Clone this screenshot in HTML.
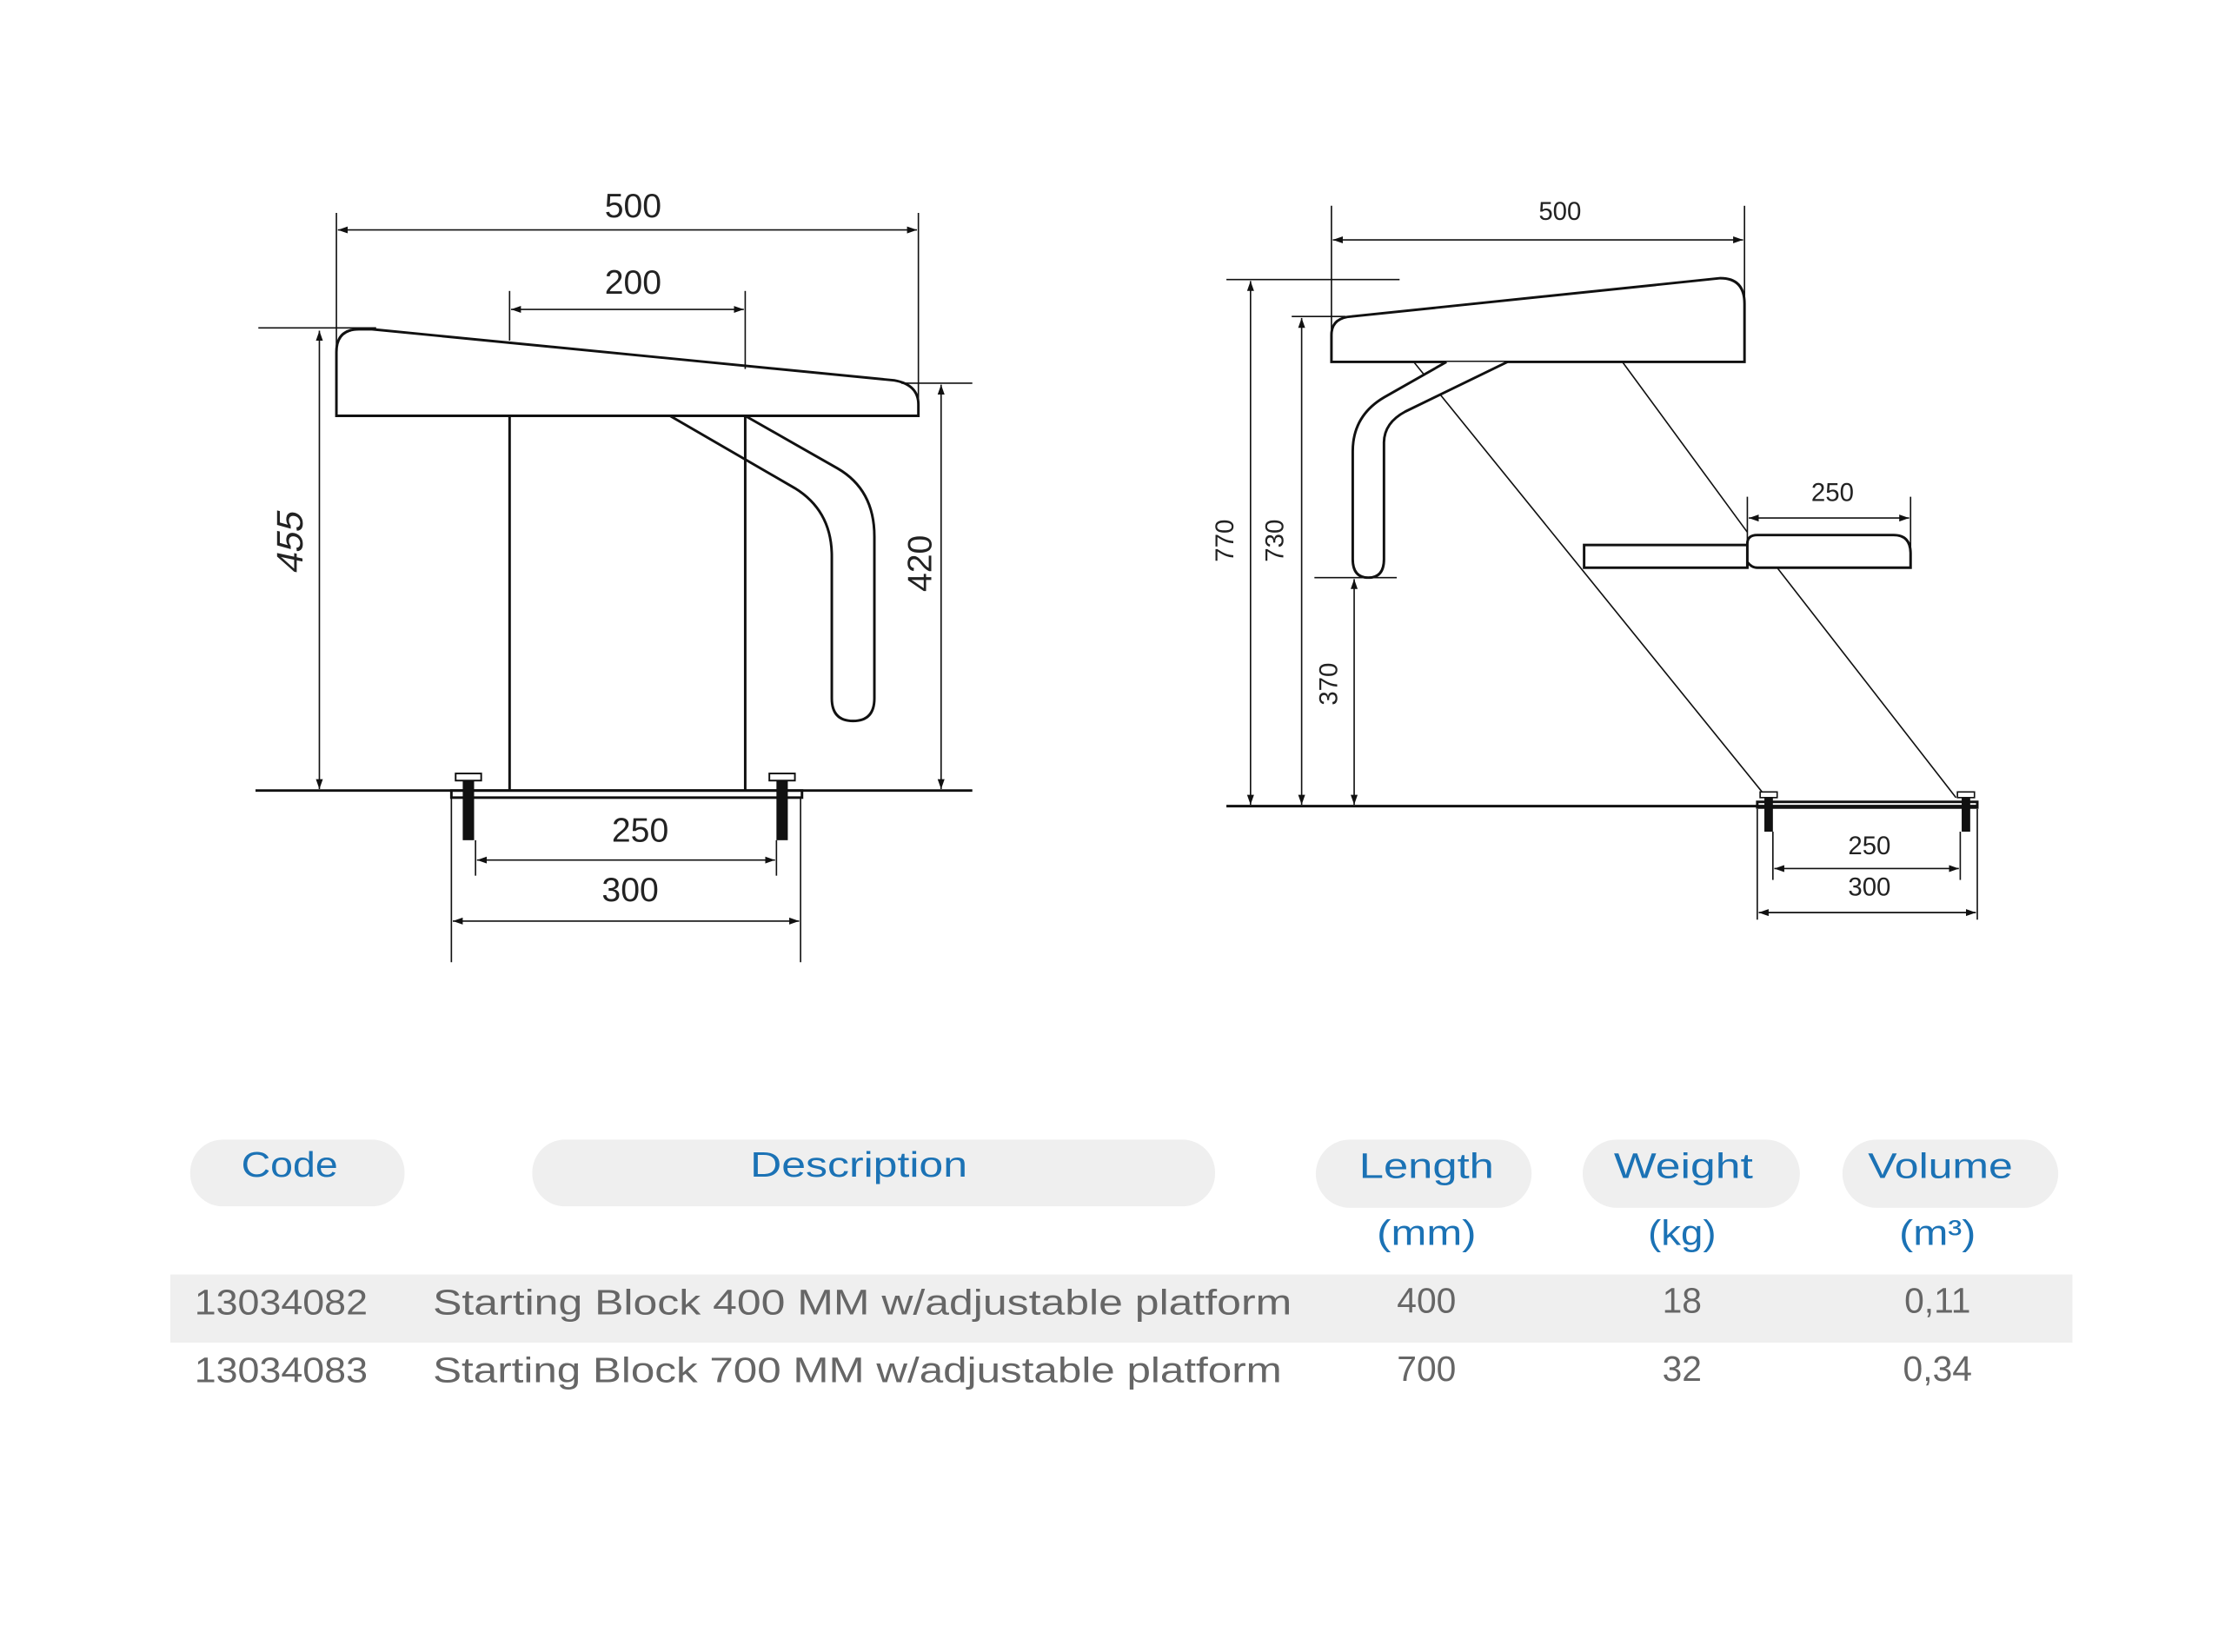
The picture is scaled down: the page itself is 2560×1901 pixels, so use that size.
<!DOCTYPE html>
<html><head><meta charset="utf-8"><style>
html,body{margin:0;padding:0;background:#fff;}
svg{display:block;}
</style></head><body>
<svg width="2560" height="1901" viewBox="0 0 1567.5 1164" xmlns="http://www.w3.org/2000/svg">
<defs>
<marker id="a" viewBox="0 0 10 10" refX="10" refY="5" markerWidth="7" markerHeight="7" orient="auto-start-reverse"><path d="M0,1.5 L10,5 L0,8.5 z" fill="#111"/></marker>
</defs>
<g fill="none" stroke="#111">
<g stroke-width="1">
<line x1="237" y1="150" x2="237" y2="293"/>
<line x1="647" y1="150" x2="647" y2="293"/>
<line x1="238" y1="162" x2="646" y2="162" marker-start="url(#a)" marker-end="url(#a)"/>
<line x1="359" y1="205" x2="359" y2="240"/>
<line x1="525" y1="205" x2="525" y2="260"/>
<line x1="360" y1="218" x2="524" y2="218" marker-start="url(#a)" marker-end="url(#a)"/>
<line x1="182" y1="231" x2="265" y2="231"/>
<line x1="635" y1="270" x2="685" y2="270"/>
<line x1="225" y1="233" x2="225" y2="556" marker-start="url(#a)" marker-end="url(#a)"/>
<line x1="663" y1="271" x2="663" y2="556" marker-start="url(#a)" marker-end="url(#a)"/>
<line x1="335" y1="592" x2="335" y2="617"/>
<line x1="547" y1="592" x2="547" y2="617"/>
<line x1="336" y1="606" x2="546" y2="606" marker-start="url(#a)" marker-end="url(#a)"/>
<line x1="318" y1="562" x2="318" y2="678"/>
<line x1="564" y1="562" x2="564" y2="678"/>
<line x1="319" y1="649" x2="563" y2="649" marker-start="url(#a)" marker-end="url(#a)"/>
</g>
<g stroke-width="1.8">
<path d="M237,293 L237,248 Q237,232 253,232 L262,232 L630,268 Q647,271 647,285 L647,293 Z"/>
<line x1="359" y1="293" x2="359" y2="557"/>
<line x1="525" y1="293" x2="525" y2="557"/>
<path d="M472,293 L560,344 Q586,360 586,392 L586,492 Q586,508 601,508 Q616,508 616,492 L616,378 Q616,345 590,330 L525,293"/>
<line x1="180" y1="557" x2="685" y2="557"/>
<rect x="318" y="557" width="247" height="5"/>
</g>
<g fill="#111" stroke="none">
<rect x="326" y="550" width="8" height="42"/>
<rect x="547" y="550" width="8" height="42"/>
</g>
<g stroke-width="1.2" fill="#fff">
<rect x="321" y="545" width="18" height="5"/>
<rect x="542" y="545" width="18" height="5"/>
</g>

<g stroke-width="1">
<line x1="938" y1="145" x2="938" y2="232"/>
<line x1="1229" y1="145" x2="1229" y2="210"/>
<line x1="939" y1="169" x2="1228" y2="169" marker-start="url(#a)" marker-end="url(#a)"/>
<line x1="864" y1="197" x2="986" y2="197"/>
<line x1="910" y1="223" x2="948" y2="223"/>
<line x1="926" y1="407" x2="984" y2="407"/>
<line x1="881" y1="198" x2="881" y2="567" marker-start="url(#a)" marker-end="url(#a)"/>
<line x1="917" y1="224" x2="917" y2="567" marker-start="url(#a)" marker-end="url(#a)"/>
<line x1="954" y1="408" x2="954" y2="567" marker-start="url(#a)" marker-end="url(#a)"/>
<line x1="1231" y1="350" x2="1231" y2="400"/>
<line x1="1346" y1="350" x2="1346" y2="400"/>
<line x1="1232" y1="365" x2="1345" y2="365" marker-start="url(#a)" marker-end="url(#a)"/>
<line x1="996" y1="255" x2="1243" y2="560"/>
<line x1="1143" y1="255" x2="1231" y2="375"/>
<line x1="1252" y1="400" x2="1378" y2="562"/>
<line x1="1249" y1="586" x2="1249" y2="620"/>
<line x1="1381" y1="586" x2="1381" y2="620"/>
<line x1="1250" y1="612" x2="1380" y2="612" marker-start="url(#a)" marker-end="url(#a)"/>
<line x1="1238" y1="570" x2="1238" y2="648"/>
<line x1="1393" y1="570" x2="1393" y2="648"/>
<line x1="1239" y1="643" x2="1392" y2="643" marker-start="url(#a)" marker-end="url(#a)"/>
</g>
<g stroke-width="1.8">
<path d="M938,255 L938,236 Q938,224 952,223 L1212,196 Q1229,196 1229,214 L1229,255 Z" fill="#fff"/>
<path d="M1019,255 L975,280 Q953,293 953,318 L953,394 Q953,407 964,407 Q975,407 975,394 L975,312 Q975,298 990,290 L1062,255" fill="#fff"/>
<rect x="1116" y="384" width="115" height="16" fill="#fff"/>
<path d="M1231,400 L1231,383 Q1231,377 1238,377 L1334,377 Q1346,377 1346,390 L1346,400 L1238,400 Q1234,400 1231,396" fill="#fff"/>
<line x1="864" y1="568" x2="1393" y2="568"/>
<rect x="1238" y="565" width="155" height="4"/>
</g>
<g fill="#111" stroke="none">
<rect x="1243" y="562" width="6" height="24"/>
<rect x="1382" y="562" width="6" height="24"/>
</g>
<g stroke-width="1" fill="#fff">
<rect x="1240" y="558" width="12" height="4"/>
<rect x="1379" y="558" width="12" height="4"/>
</g>
</g>

<g font-family="Liberation Sans, Arial, sans-serif" fill="#222" text-anchor="middle">
<text x="446" y="153" font-size="24">500</text>
<text x="446" y="207" font-size="24">200</text>
<text x="451" y="593" font-size="24">250</text>
<text x="444" y="635" font-size="24">300</text>
<text transform="translate(213,383) rotate(-90) skewX(-12)" font-size="26">455</text>
<text transform="translate(656,397) rotate(-90)" font-size="24">420</text>
<text x="1099" y="155" font-size="18">500</text>
<text x="1291" y="353" font-size="18">250</text>
<text x="1317" y="602" font-size="18">250</text>
<text x="1317" y="631" font-size="18">300</text>
<text transform="translate(869,381) rotate(-90)" font-size="18">770</text>
<text transform="translate(904,381) rotate(-90)" font-size="18">730</text>
<text transform="translate(942,482) rotate(-90)" font-size="18">370</text>
</g>

<g fill="#efefef">
<rect x="134" y="803" width="151" height="47" rx="23"/>
<rect x="375" y="803" width="481" height="47" rx="23"/>
<rect x="927" y="803" width="152" height="48" rx="24"/>
<rect x="1115" y="803" width="153" height="48" rx="24"/>
<rect x="1298" y="803" width="152" height="48" rx="24"/>
<rect x="120" y="898" width="1340" height="48"/>
</g>
<g font-family="Liberation Sans, Arial, sans-serif" font-size="25" fill="#1b72b5" text-anchor="middle">
<text x="204" y="829" textLength="68" lengthAdjust="spacingAndGlyphs">Code</text>
<text x="605" y="829" textLength="153" lengthAdjust="spacingAndGlyphs">Description</text>
<text x="1005" y="830" textLength="95" lengthAdjust="spacingAndGlyphs">Length</text>
<text x="1186" y="830" textLength="98" lengthAdjust="spacingAndGlyphs">Weight</text>
<text x="1367" y="830" textLength="102" lengthAdjust="spacingAndGlyphs">Volume</text>
<text x="1005" y="877" textLength="70" lengthAdjust="spacingAndGlyphs">(mm)</text>
<text x="1185" y="877" textLength="48" lengthAdjust="spacingAndGlyphs">(kg)</text>
<text x="1365" y="877" textLength="54" lengthAdjust="spacingAndGlyphs">(m³)</text>
</g>
<g font-family="Liberation Sans, Arial, sans-serif" font-size="25" fill="#666">
<text x="137" y="926" textLength="122" lengthAdjust="spacingAndGlyphs">13034082</text>
<text x="305" y="926" textLength="605" lengthAdjust="spacingAndGlyphs">Starting Block 400 MM w/adjustable platform</text>
<text x="137" y="974" textLength="122" lengthAdjust="spacingAndGlyphs">13034083</text>
<text x="305" y="974" textLength="598" lengthAdjust="spacingAndGlyphs">Starting Block 700 MM w/adjustable platform</text>
<g text-anchor="middle">
<text x="1005" y="925">400</text>
<text x="1185" y="925">18</text>
<text x="1365" y="925">0,11</text>
<text x="1005" y="973">700</text>
<text x="1185" y="973">32</text>
<text x="1365" y="973">0,34</text>
</g>
</g>
</svg>
</body></html>
